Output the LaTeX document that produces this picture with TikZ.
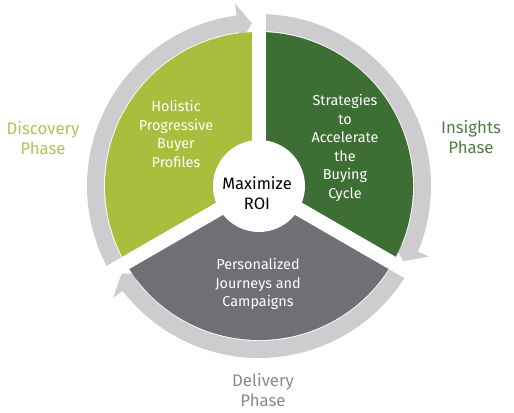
\documentclass[tikz,border=0pt]{standalone}
\usepackage{fontspec}
\setmainfont{Fira Sans}
\definecolor{cLime}{HTML}{AABD3C}
\definecolor{cDark}{HTML}{3D6E34}
\definecolor{cGray}{HTML}{6E7075}
\definecolor{cRing}{HTML}{CECCCF}
\definecolor{cLimeTxt}{HTML}{B0C35A}
\definecolor{cDarkTxt}{HTML}{4E7E44}
\definecolor{cGrayTxt}{HTML}{8A8A8A}
\tikzset{
  sectortext/.style={text=white, align=center, inner sep=0pt, font=\fontsize{10.8}{13.9}\selectfont},
  centertext/.style={text=black, align=center, inner sep=0pt, font=\fontsize{12.4}{15}\selectfont},
  phasetext/.style={align=center, inner sep=0pt, font=\fontsize{12.6}{14.8}\selectfont},
  gapline/.style={white, line width=10.5pt, line cap=butt}
}
\begin{document}
\begin{tikzpicture}[x=0.75pt,y=0.75pt]
\useasboundingbox (0,0) rectangle (514,-413);
\begin{scope}[shift={(259,-186)}]
  % ring arrows
  \fill[cRing] (210:172) arc[start angle=210, end angle=97.5, radius=172]
     -- (97.5:184) -- (92.5:163) -- (97.5:144) -- (97.5:155)
     arc[start angle=97.5, end angle=210, radius=155] -- cycle;
  \fill[cRing] (90:172) arc[start angle=90, end angle=-22.5, radius=172]
     -- (-22.5:184) -- (-27.5:163) -- (-22.5:144) -- (-22.5:155)
     arc[start angle=-22.5, end angle=90, radius=155] -- cycle;
  \fill[cRing] (-30:172) arc[start angle=-30, end angle=-142.5, radius=172]
     -- (-142.5:184) -- (-147.5:163) -- (-142.5:144) -- (-142.5:155)
     arc[start angle=-142.5, end angle=-30, radius=155] -- cycle;
  % sectors
  \fill[cLime] (0,0) -- (90:154) arc[start angle=90, end angle=210, radius=154] -- cycle;
  \fill[cDark] (0,0) -- (-30:154) arc[start angle=-30, end angle=90, radius=154] -- cycle;
  \fill[cGray] (0,0) -- (210:154) arc[start angle=210, end angle=330, radius=154] -- cycle;
  % gaps
  \coordinate (o) at (0,0);
  \coordinate (g1) at (90:176);
  \coordinate (g2) at (-30:176);
  \coordinate (g3) at (210:176);
  \draw[gapline] (o) -- (g1);
  \draw[gapline] (o) -- (g2);
  \draw[gapline] (o) -- (g3);
  \fill[white] (o) circle[radius=46];
\end{scope}
\node[centertext] (roi) at (257,-193) {Maximize\\ROI};
\node[sectortext] (s1) at (176,-134) {Holistic\\Progressive\\Buyer\\Profiles};
\node[sectortext] (s2) at (345,-148) {Strategies\\to\\Accelerate\\the\\Buying\\Cycle};
\node[sectortext] (s3) at (258,-284) {Personalized\\Journeys and\\Campaigns};
\node[phasetext, text=cLimeTxt] (p1) at (43,-138) {Discovery\\Phase};
\node[phasetext, text=cDarkTxt] (p2) at (471,-137) {Insights\\Phase};
\node[phasetext, text=cGrayTxt] (p3) at (263,-390) {Delivery\\Phase};
\end{tikzpicture}
\end{document}
